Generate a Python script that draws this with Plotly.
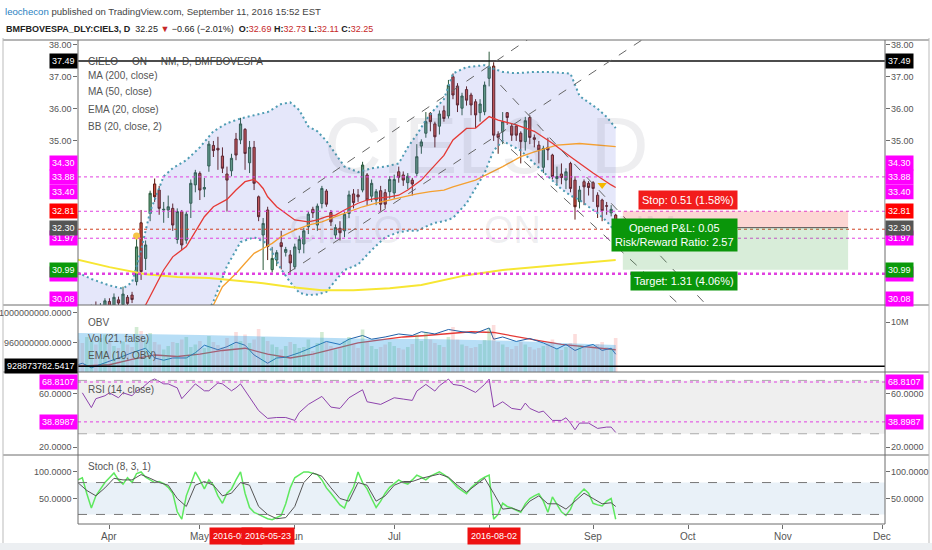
import plotly.graph_objects as go
import pandas as pd

W, H = 932, 550
def px(x): return x / W
def py(y): return 1 - y / H

# ---------------- data ----------------
holidays = ["2016-03-25", "2016-04-21", "2016-05-26", "2016-09-07"]
dates = [d.strftime("%Y-%m-%d") for d in pd.bdate_range("2016-03-22", "2016-09-09")
         if d.strftime("%Y-%m-%d") not in holidays]
OFF = 7  # dates[OFF] == 2016-04-01
def D(i): return dates[i + OFF]

opens = [29.60,29.50,29.40,29.55,29.80,29.65,29.75,30.00,
 29.89,30.05,29.90,30.13,30.20,30.62,32.45,31.34,32.74,33.66,
 33.47,32.85,32.85,32.90,31.93,32.80,31.91,33.06,33.63,33.99,
 33.50,34.22,34.86,34.77,34.53,33.97,34.07,35.06,35.03,35.36,
 34.32,34.80,33.26,32.07,32.85,30.99,31.29,31.83,31.53,31.45,
 31.08,31.62,31.79,32.33,32.87,32.38,33.05,33.44,32.77,32.07,
 32.28,32.20,32.74,33.35,33.32,33.47,33.94,33.28,33.16,33.45,
 33.39,33.42,33.38,34.04,33.94,33.70,33.78,33.99,34.84,35.24,
 35.86,35.53,35.46,35.94,35.78,37.00,36.71,36.02,36.60,36.43,
 36.22,35.88,35.91,36.95,37.33,35.21,35.29,35.88,35.46,35.46,
 35.24,34.98,35.73,35.10,34.87,34.18,34.80,34.56,33.83,33.97,
 33.78,34.30,33.78,33.11,33.73,33.68,33.70,33.31,33.16,32.98,
 32.76,32.69]
highs = [29.80,29.70,29.65,29.90,30.00,29.95,30.10,30.10,
 30.25,30.15,30.46,30.20,30.30,32.12,32.85,31.90,33.45,33.83,
 33.60,33.10,33.30,33.05,32.90,32.85,32.80,33.80,34.10,34.05,
 33.85,35.00,35.00,35.13,34.80,34.20,34.60,35.25,35.72,35.40,
 35.00,35.00,33.30,32.60,32.95,31.70,31.60,32.20,31.70,31.60,
 31.80,32.05,32.30,32.80,32.95,33.05,33.60,33.50,32.85,32.40,
 32.50,32.80,33.45,33.50,33.50,34.35,34.00,33.80,33.50,33.60,
 33.50,33.90,33.95,34.20,34.05,34.00,33.85,34.90,35.05,35.90,
 35.90,35.60,35.95,36.10,36.90,37.10,36.80,36.50,36.70,36.50,
 36.30,36.30,36.85,37.78,37.45,35.30,35.90,35.90,35.55,35.50,
 35.30,35.75,35.80,35.20,35.00,34.85,35.10,34.60,34.20,34.30,
 34.15,34.35,33.90,33.60,33.80,33.75,33.75,33.40,33.20,33.10,
 33.00,32.73]
lows = [29.40,29.30,29.25,29.45,29.55,29.50,29.65,29.70,
 29.80,29.80,29.85,29.85,29.95,30.50,30.67,30.98,32.50,33.10,
 32.70,32.45,32.60,32.20,31.80,31.60,31.80,32.60,33.40,33.16,
 33.25,34.04,34.50,34.10,34.00,32.80,33.90,34.40,34.90,34.10,
 34.00,33.47,32.50,30.98,31.29,30.90,31.10,31.00,31.40,30.90,
 31.00,31.50,31.50,32.10,32.60,32.20,32.90,32.95,32.35,31.95,
 31.90,32.00,32.60,32.90,33.10,33.40,33.00,33.10,33.00,32.80,
 32.90,33.20,33.20,33.70,33.60,33.50,33.30,33.90,34.60,35.10,
 35.30,34.80,35.20,35.60,35.70,36.30,35.90,35.80,36.10,35.80,
 35.40,35.60,35.80,36.70,35.00,34.60,34.90,35.50,35.00,35.00,
 34.30,34.70,34.90,34.80,34.30,34.00,34.40,33.80,33.60,33.65,
 33.50,33.40,32.55,32.90,33.00,33.30,33.10,32.60,32.50,32.70,
 32.65,32.11]
closes = [29.50,29.40,29.55,29.80,29.65,29.75,30.02,29.82,
 30.13,29.95,30.23,29.94,30.06,31.70,30.93,31.76,33.37,33.26,
 32.90,32.87,32.95,32.38,32.80,31.76,32.72,33.68,34.01,33.47,
 33.55,34.90,34.70,34.72,34.15,33.78,34.46,34.56,35.53,34.61,
 34.80,33.68,32.64,32.43,31.71,31.34,31.52,31.71,31.62,31.20,
 31.70,31.93,32.20,32.72,32.76,32.97,33.52,33.03,32.48,32.30,
 32.14,32.72,33.32,33.08,33.26,34.25,33.16,33.68,33.42,33.03,
 33.03,33.80,33.80,33.87,33.78,33.90,33.66,34.51,34.97,35.60,
 35.60,35.13,35.84,35.70,36.74,36.43,36.12,36.40,36.27,36.12,
 35.81,36.15,36.74,37.31,35.18,35.11,35.60,35.73,35.18,35.18,
 34.98,35.63,35.11,35.05,34.72,34.77,34.72,33.89,33.89,33.86,
 34.04,33.52,32.95,33.47,33.57,33.55,33.52,32.95,32.83,32.97,
 32.87,32.25]

# Bollinger (20, 2) read at sample bars
bb_idx = [-7,-4,0,3,5,7,9,12,14,17,20,23,26,29,32,35,38,40,42,44,46,48,50,52,55,58,61,64,66,68,
          70,72,74,76,79,83,85,87,89,91,94,97,100,102,104,106,108,110,112]
bb_up = [30.9,30.7,30.5,30.4,30.6,31.6,32.8,33.9,34.15,34.4,34.8,35.3,35.55,35.7,35.8,35.9,36.15,36.2,
         35.96,35.45,35.3,35.0,34.6,34.2,34.03,34.15,34.2,34.3,34.8,35.2,35.65,36.0,36.3,37.1,37.3,
         37.36,37.25,37.15,37.12,37.12,37.15,37.15,37.12,37.1,36.4,36.2,36.0,35.75,35.4]
bb_lo = [29.0,29.1,29.3,29.4,29.4,29.2,28.8,28.6,28.6,28.8,29.2,30.0,31.1,31.85,32.0,31.8,31.0,30.6,
         30.27,30.2,30.22,30.3,30.65,30.98,31.15,31.6,32.0,32.16,32.2,32.2,32.33,32.45,32.5,32.6,33.06,
         34.0,34.7,35.0,34.85,34.7,34.3,33.9,33.5,33.3,33.16,32.95,32.75,32.5,32.16]
ema_idx = [-7,0,5,8,12,14,17,19,21,23,26,28,30,32,33,34,35,37,40,41,44,46,48,50,52,55,57,59,62,64,
           66,69,71,74,76,79,81,84,86,90,94,98,102,107,111,112]
ema20 = [29.1,29.35,29.6,29.89,30.98,31.39,31.71,32.17,32.64,32.95,33.18,33.47,33.73,33.8,33.68,33.52,
         33.26,32.95,32.64,32.54,32.48,32.54,32.64,32.69,32.85,33.06,33.16,33.21,33.26,33.31,33.47,
         33.78,34.09,34.55,35.03,35.39,35.4,35.76,35.65,35.5,35.3,34.93,34.51,34.0,33.63,33.55]
ma50_idx = [-7,10,20,23,25,28,30,32,34,36,38,41,44,47,50,53,56,59,62,65,68,71,74,76,81,84,87,91,94,
            99,104,112]
ma50 = [29.0,29.3,29.7,29.89,30.46,30.87,31.19,31.5,31.65,31.81,32.02,32.22,32.38,32.48,32.64,32.8,
        32.95,33.06,33.16,33.26,33.35,33.42,33.47,33.57,33.78,33.99,34.2,34.51,34.66,34.87,34.92,34.82]
ma200_idx = [-7,0,8,15,22,34,40,47,54,62,69,79,87,94,101,112]
ma200 = [31.3,31.07,30.85,30.76,30.73,30.57,30.45,30.35,30.35,30.41,30.51,30.82,30.98,31.07,31.17,31.29]

# OBV (millions) and its EMA(10)
obv_idx = [-7,-6,-4,-2,0,2,5,8,10,12,14,17,19,21,24,26,28,30,32,35,37,39,42,45,48,51,53,56,58,61,
           64,67,69,72,75,78,81,84,85,87,90,93,96,99,101,103,105,107,109,111,112]
obv = [931,933,927,931,935,940,947,953,940,937,940,940,947,957,951,955,961,957,944,933,940,941,947,
       955,962,958,965,970,965,968,972,970,975,972,978,975,973,980,965,968,962,966,960,952,958,950,
       955,958,950,953,945]
obv_ema_idx = [-7,0,5,10,15,20,25,30,35,40,45,50,55,60,65,70,75,80,85,90,95,100,105,110,112]
obv_ema = [929,931,938,944,942,945,950,953,945,940,945,952,960,964,968,970,973,975,974,968,963,958,
           955,953,951]
vol = [6.5,5.8,7.0,6.2,5.5,6.8,7.5,6.0,
 5.2,4.8,6.1,5.5,5.0,9.0,8.2,6.5,7.8,6.0,
 5.5,4.5,5.2,6.0,5.8,6.5,7.0,5.0,5.5,6.2,
 4.8,7.2,6.0,5.4,5.0,6.8,5.5,8.0,6.2,7.5,
 5.8,6.5,8.6,7.0,6.2,5.5,5.0,4.5,5.2,6.0,
 5.6,4.8,5.0,6.5,4.2,5.8,8.0,6.0,5.2,4.5,
 5.0,6.2,7.0,5.5,4.8,8.5,6.0,5.2,4.6,5.0,
 5.5,6.0,5.2,4.8,4.5,5.0,5.6,7.5,6.2,8.0,
 6.5,5.8,5.4,5.0,7.0,9.0,6.5,5.5,5.2,4.8,
 5.0,5.6,6.4,8.8,9.4,6.0,5.5,5.0,4.6,5.2,
 6.0,5.5,5.0,4.5,4.8,5.2,5.6,6.5,4.6,4.4,
 5.0,5.8,7.6,5.4,5.0,4.8,5.2,5.6,6.0,5.0,
 4.6,6.8]
volma_idx = [-7,10,20,30,40,50,60,70,80,90,100,112]
volma = [7.8,7.6,7.4,7.2,7.0,6.8,6.6,6.6,6.4,6.2,5.8,5.4]

# RSI(14)
rsi_idx = [-6,-4,-3,-1,0,2,3,5,6,7,9,10,12,13,15,16,18,19,21,22,24,25,27,28,29,31,33,35,37,39,41,42,
           44,47,49,51,53,56,57,60,63,65,67,68,70,72,73,75,76,78,80,81,83,84,85,87,89,91,92,93,95,96,
           98,100,101,102,103,104,106,108,110,111,112]
rsi = [60.7,49.6,56.3,58.5,60.7,57,60.7,58.5,62.2,63.7,69.6,71.1,67.4,67.4,64.4,56.3,63.7,67.4,62.2,
       62.2,68.1,67.4,62.2,64.4,67.4,57,47.4,41.5,42.2,42.2,40,45.9,52,58,50,49,57,63,54,52,57,56,55,
       62,67,62,66,71,67,66,63,61,67,71,50,54,49,48,53,49,46,47,40,40,42,38,33,38,38,34,35,35,31]

# Stochastic (8,3,1)
stk_idx = list(range(-7, 113))
stk = [85,89,59,32,55,68,80,89,98,85,77,89,80,97,100,90,85,80,82,78,71,60,25,11,55,77,100,85,68,85,
       75,55,41,60,68,85,100,60,33,24,20,15,12,10,14,18,40,70,89,95,100,100,98,95,85,70,60,50,38,32,
       55,71,100,80,68,50,33,45,60,71,78,85,80,77,85,94,90,85,92,96,100,95,89,80,71,65,59,70,78,85,
       90,94,11,20,41,35,32,28,24,40,50,55,59,45,24,53,40,25,18,30,50,60,68,60,41,38,36,45,50,11]
std_idx = [-7,-5,-3,-1,1,3,5,7,9,11,13,15,17,19,21,23,25,27,29,31,33,35,37,39,41,43,45,47,49,51,53,
           55,57,59,61,63,65,67,69,71,73,75,77,79,81,83,85,87,89,91,93,95,97,99,101,103,105,107,109,
           111,112]
std = [80,65,55,70,88,85,85,95,88,80,75,50,35,75,82,75,55,60,80,75,35,20,12,14,35,80,98,92,70,50,
       45,80,75,45,55,75,82,82,88,92,96,90,75,62,75,88,60,30,32,26,45,55,40,40,30,45,60,50,40,42,35]

# axis / label values
price_ticks = [35, 36, 37, 38]
hlines_magenta = [33.88, 32.81, 31.97]
hline_black = 37.49
hline_thick = 30.86
last_price = 32.25
entry, stop, target = 32.30, 32.81, 30.99
month_vals = ["2016-04-01","2016-05-02","2016-06-01","2016-07-01","2016-08-01","2016-09-01",
              "2016-10-03","2016-11-01","2016-12-01"]
month_text = ["Apr","May","Jun","Jul","Aug","Sep","Oct","Nov","Dec"]

FONT = "Liberation Sans, Arial"
AX = 9  # axis label font size

# ---------------- figure ----------------
fig = go.Figure()

bbx = [D(i) for i in bb_idx]
fig.add_trace(go.Scatter(x=bbx, y=bb_up, mode="lines", line=dict(width=0, color="rgba(0,0,0,0)"),
                         hoverinfo="skip", showlegend=False))
fig.add_trace(go.Scatter(x=bbx, y=bb_lo, mode="lines", line=dict(width=0, color="rgba(0,0,0,0)"),
                         fill="tonexty", fillcolor="rgba(100,115,225,0.17)", hoverinfo="skip", showlegend=False))
for arr in (bb_up, bb_lo):
    fig.add_trace(go.Scatter(x=bbx, y=arr, mode="lines", line=dict(width=2, color="#4e9cb3", dash="2px,3px"),
                             hoverinfo="skip", showlegend=False))

fig.add_trace(go.Scatter(x=[D(i) for i in ma200_idx], y=ma200, mode="lines",
                         line=dict(color="#f7e633", width=2), hoverinfo="skip", showlegend=False))
fig.add_trace(go.Scatter(x=[D(i) for i in ma50_idx], y=ma50, mode="lines",
                         line=dict(color="#f5a030", width=1.3), hoverinfo="skip", showlegend=False))
fig.add_trace(go.Scatter(x=[D(i) for i in ema_idx], y=ema20, mode="lines",
                         line=dict(color="#e53935", width=1.3), hoverinfo="skip", showlegend=False))

fig.add_trace(go.Candlestick(x=dates, open=opens, high=highs, low=lows, close=closes,
                             increasing=dict(line=dict(color="#2c5a3c", width=1), fillcolor="#5f9f78"),
                             decreasing=dict(line=dict(color="#5b1a13", width=1), fillcolor="#d0503f"),
                             whiskerwidth=0, hoverinfo="skip", showlegend=False))

fig.add_trace(go.Scatter(x=[D(6)], y=[32.04], mode="markers",
                         marker=dict(symbol="circle", size=7, color="#f6c445"), hoverinfo="skip", showlegend=False))
fig.add_trace(go.Scatter(x=[D(109)], y=[33.63], mode="markers",
                         marker=dict(symbol="triangle-down", size=8, color="#f5b800"), hoverinfo="skip", showlegend=False))

# ---- OBV / volume panel
vcolors = ["rgba(76,175,80,0.25)" if c >= o else "rgba(239,83,80,0.2)" for o, c in zip(opens, closes)]
fig.add_trace(go.Bar(x=dates, y=[v * 1e6 for v in vol], marker=dict(color=vcolors, line=dict(width=0)),
                     xaxis="x2", yaxis="y5", hoverinfo="skip", showlegend=False))
fig.add_trace(go.Scatter(x=[D(i) for i in volma_idx], y=[v * 1e6 for v in volma], mode="lines",
                         line=dict(width=0, color="rgba(0,0,0,0)"), fill="tozeroy",
                         fillcolor="rgba(50,160,230,0.35)", xaxis="x2", yaxis="y5", hoverinfo="skip", showlegend=False))
fig.add_trace(go.Scatter(x=[D(i) for i in obv_ema_idx], y=[v * 1e6 for v in obv_ema], mode="lines",
                         line=dict(color="#e53935", width=1.3), xaxis="x2", yaxis="y2", hoverinfo="skip", showlegend=False))
fig.add_trace(go.Scatter(x=[D(i) for i in obv_idx], y=[v * 1e6 for v in obv], mode="lines",
                         line=dict(color="#1f5fa8", width=1), xaxis="x2", yaxis="y2", hoverinfo="skip", showlegend=False))

# ---- RSI
fig.add_trace(go.Scatter(x=[D(i) for i in rsi_idx], y=rsi, mode="lines",
                         line=dict(color="#8e44ad", width=1), xaxis="x3", yaxis="y3", hoverinfo="skip", showlegend=False))

# ---- Stoch
fig.add_trace(go.Scatter(x=[D(i) for i in stk_idx], y=stk, mode="lines",
                         line=dict(color="#5ee85e", width=1.5), xaxis="x4", yaxis="y4", hoverinfo="skip", showlegend=False))
fig.add_trace(go.Scatter(x=[D(i) for i in std_idx], y=std, mode="lines",
                         line=dict(color="#555555", width=1), xaxis="x4", yaxis="y4", hoverinfo="skip", showlegend=False))

# ---------------- layout ----------------
rb = [dict(bounds=["sat", "mon"]), dict(values=holidays)]
xr = ["2016-03-22 01:00", "2016-12-01 14:00"]
xdom = [px(78), px(885)]
axline = "#6d6d6d"
common_x = dict(type="date", rangebreaks=rb, range=xr, domain=xdom, showgrid=False, zeroline=False,
                showline=False, fixedrange=True)

def ydom(top, bot): return [py(bot), py(top)]

layout = dict(
    width=W, height=H, margin=dict(l=0, r=0, t=0, b=0),
    paper_bgcolor="white", plot_bgcolor="white",
    font=dict(family=FONT, size=AX, color="#555555"),
    xaxis=dict(common_x, anchor="y", showticklabels=False, rangeslider=dict(visible=False)),
    xaxis2=dict(common_x, anchor="y2", matches="x", showticklabels=False),
    xaxis3=dict(common_x, anchor="y3", matches="x", showticklabels=False),
    xaxis4=dict(common_x, anchor="y4", matches="x", showticklabels=False, tickmode="array",
                tickvals=month_vals, ticks="outside", ticklen=4, tickcolor=axline),
    yaxis=dict(domain=ydom(40, 305), range=[29.89, 38.144], showgrid=False, zeroline=False,
               tickmode="array", tickvals=price_ticks, showticklabels=False, ticks="outside", ticklen=4,
               tickcolor=axline, mirror="ticks", fixedrange=True),
    yaxis2=dict(domain=ydom(306, 372), anchor="x2", range=[921.3e6, 1009.3e6], showgrid=False, zeroline=False,
                tickmode="array", tickvals=[960e6, 1000e6], showticklabels=False, ticks="outside", ticklen=4,
                tickcolor=axline, fixedrange=True),
    yaxis5=dict(domain=ydom(306, 372), anchor="x2", overlaying="y2", side="right", range=[0, 13.2e6],
                showgrid=False, zeroline=False, tickmode="array", tickvals=[10e6], showticklabels=False,
                ticks="outside", ticklen=4, tickcolor=axline, fixedrange=True),
    yaxis3=dict(domain=ydom(373, 455), anchor="x3", range=[14.07, 75.56], showgrid=False, zeroline=False,
                tickmode="array", tickvals=[20, 60], showticklabels=False, ticks="outside", ticklen=4,
                tickcolor=axline, mirror="ticks", fixedrange=True),
    yaxis4=dict(domain=ydom(456, 524), anchor="x4", range=[2, 130], showgrid=False, zeroline=False,
                tickmode="array", tickvals=[50, 100], showticklabels=False, ticks="outside", ticklen=4,
                tickcolor=axline, mirror="ticks", fixedrange=True),
)
fig.update_layout(**layout)

shapes = []
def pline(x0, y0, x1, y1, color=axline, width=1):
    shapes.append(dict(type="line", xref="paper", yref="paper", x0=px(x0), y0=py(y0), x1=px(x1), y1=py(y1),
                       line=dict(color=color, width=width)))

shapes.append(dict(type="rect", xref="x3 domain", yref="y3", x0=0, x1=1, y0=30, y1=70,
                   fillcolor="#efefef", line=dict(width=0), layer="below"))
shapes.append(dict(type="rect", xref="x4 domain", yref="y4", x0=0, x1=1, y0=20, y1=80,
                   fillcolor="#e9f1f8", line=dict(width=0), layer="below"))
for yv in (70, 30):
    shapes.append(dict(type="line", xref="x3 domain", yref="y3", x0=0, x1=1, y0=yv, y1=yv,
                       line=dict(color="#aaaaaa", width=1, dash="dash")))
for yv in (80, 20):
    shapes.append(dict(type="line", xref="x4 domain", yref="y4", x0=0, x1=1, y0=yv, y1=yv,
                       line=dict(color="#777777", width=1, dash="dash")))
for yv in (68.8107, 38.8987):
    shapes.append(dict(type="line", xref="x3 domain", yref="y3", x0=0, x1=1, y0=yv, y1=yv,
                       line=dict(color="#e040e0", width=1, dash="dot")))
shapes.append(dict(type="line", xref="x2 domain", yref="y2", x0=0, x1=1, y0=928873782.5417, y1=928873782.5417,
                   line=dict(color="#000000", width=1.5)))

shapes.append(dict(type="line", xref="x domain", yref="y", x0=0, x1=1, y0=hline_black, y1=hline_black,
                   line=dict(color="#111111", width=1.5)))
for yv in hlines_magenta:
    shapes.append(dict(type="line", xref="x domain", yref="y", x0=0, x1=1, y0=yv, y1=yv,
                       line=dict(color="#e040e0", width=1, dash="dot")))
shapes.append(dict(type="line", xref="x domain", yref="y", x0=0, x1=1, y0=hline_thick, y1=hline_thick,
                   line=dict(color="#e040e0", width=2.5, dash="dot")))
shapes.append(dict(type="line", xref="x domain", yref="y", x0=0, x1=1, y0=last_price, y1=last_price,
                   line=dict(color="#d04020", width=1, dash="dot")))

channels = [
    ("2016-05-30 12:00", 33.07, "2016-08-15 00:00", 38.30),
    ("2016-05-30 12:00", 30.89, "2016-09-20 12:00", 38.30),
    ("2016-08-03 12:00", 36.74, "2016-10-17 00:00", 29.00),
    ("2016-08-02 22:00", 35.12, "2016-10-10 00:00", 29.00),
]
for x0, y0, x1, y1 in channels:
    shapes.append(dict(type="line", xref="x", yref="y", x0=x0, y0=y0, x1=x1, y1=y1,
                       line=dict(color="#666666", width=1, dash="dash")))

pos_x0, pos_x1 = "2016-09-12 14:00", "2016-11-21 10:00"
shapes.append(dict(type="rect", xref="x", yref="y", x0=pos_x0, x1=pos_x1, y0=entry, y1=stop,
                   fillcolor="rgba(244,67,54,0.22)", line=dict(width=0)))
shapes.append(dict(type="rect", xref="x", yref="y", x0=pos_x0, x1=pos_x1, y0=target, y1=entry,
                   fillcolor="rgba(76,175,80,0.22)", line=dict(width=0)))
shapes.append(dict(type="line", xref="x", yref="y", x0=pos_x0, x1=pos_x1, y0=entry, y1=entry,
                   line=dict(color="#555555", width=1)))

for yv in (40, 305, 372, 455):
    pline(3, yv, 929, yv)
pline(78, 524, 885, 524)
pline(78, 40, 78, 524)
pline(885, 40, 885, 524)
pline(3, 38, 3, 543, "#bbbbbb")
pline(929, 38, 929, 543, "#bbbbbb")
shapes.append(dict(type="rect", xref="paper", yref="paper", x0=0, x1=1, y0=0, y1=py(543),
                   fillcolor="#eceff2", line=dict(width=0)))
fig.update_layout(shapes=shapes)

# ---------------- annotations ----------------
ann = []
def txt(x, y, s, size=AX, color="#555555", xanchor="left", yref="paper", bg=None, fc=None, family=FONT, pad=1):
    ann.append(dict(x=px(x), y=(py(y) if yref == "paper" else y), xref="paper", yref=yref, text=s,
                    showarrow=False, xanchor=xanchor, yanchor="middle",
                    font=dict(size=size, color=(fc or color), family=family),
                    bgcolor=bg, borderpad=pad))

def box(side, y, s, bg, yref, fc="white"):
    if side == "L":
        txt(78, y, s, xanchor="right", yref=yref, bg=bg, fc=fc, pad=2)
    else:
        txt(885, y, s, xanchor="left", yref=yref, bg=bg, fc=fc, pad=2)

# header
ann.append(dict(x=px(3), y=py(11), xref="paper", yref="paper", xanchor="left", yanchor="middle", showarrow=False,
                text="<span style='color:#2a7fc1'>leochecon</span> published on TradingView.com, September 11, 2016 15:52 EST",
                font=dict(size=9.6, color="#444444", family=FONT)))
ann.append(dict(x=px(4), y=py(29), xref="paper", yref="paper", xanchor="left", yanchor="middle", showarrow=False,
                text="<b>BMFBOVESPA_DLY:CIEL3, D</b>  32.25 <span style='color:#c62828'>▼</span> −0.66 (−2.01%)  "
                     "<b>O:</b><span style='color:#c62828'>32.69</span> <b>H:</b><span style='color:#c62828'>32.73</span> "
                     "<b>L:</b><span style='color:#c62828'>32.11</span> <b>C:</b><span style='color:#c62828'>32.25</span>",
                font=dict(size=9, color="#222222", family=FONT)))

# watermarks
wm = "rgba(90,90,110,0.10)"
ann.append(dict(x=px(486), y=py(146), xref="paper", yref="paper", text="CIEL3, D", showarrow=False,
                xanchor="center", yanchor="middle", font=dict(size=80, color=wm, family=FONT)))
for s, xc in (("CIELO", 346), ("ON", 512), ("NM", 646)):
    ann.append(dict(x=px(xc), y=py(230), xref="paper", yref="paper", text=s, showarrow=False,
                    xanchor="center", yanchor="middle", font=dict(size=38, color=wm, family=FONT)))

# legends
sp = "\u00a0" * 5
txt(86, 61, "CIELO" + sp + "ON" + sp + "NM, D, BMFBOVESPA", size=10, color="#444444")
for i, s in enumerate(["MA (200, close)", "MA (50, close)", "EMA (20, close)", "BB (20, close, 2)"]):
    txt(86, 75 + 17 * i, s, size=10, color="#555555")
txt(86, 322, "OBV", size=10)
txt(86, 338, "Vol (21, false)", size=10)
txt(86, 355, "EMA (10, OBV)", size=10)
txt(86, 389, "RSI (14, close)", size=10)
txt(86, 466, "Stoch (8, 3, 1)", size=10)

# price axis labels
for v in price_ticks:
    txt(74, v, f"{v:.2f}", xanchor="right", yref="y")
    txt(889, v, f"{v:.2f}", xanchor="left", yref="y")
price_boxes = [(34.30, "#ff00ff"), (33.88, "#ff00ff"), (33.40, "#ff00ff"), (32.95, "#ffffff"),
               (32.81, "#ff0000"), (31.97, "#ff00ff"), (32.30, "#555555"), (30.86, "#ff00ff"),
               (30.99, "#0a9a0a"), (30.08, "#ff00ff"), (37.49, "#000000")]
for v, c in price_boxes:
    for side in ("L", "R"):
        box(side, v, f"{v:.2f}", c, "y", fc=("#bbbbbb" if c == "#ffffff" else "white"))

txt(74, 1000e6, "1000000000.0000", xanchor="right", yref="y2")
txt(74, 960e6, "960000000.0000", xanchor="right", yref="y2")
box("L", 928873782.5417, "928873782.5417", "#000000", "y2")
txt(889, 10e6, "10M", yref="y5")
for v in (60, 20):
    txt(74, v, f"{v:.4f}", xanchor="right", yref="y3")
    txt(889, v, f"{v:.4f}", yref="y3")
for v in (68.8107, 38.8987):
    box("L", v, f"{v:.4f}", "#ff00ff", "y3")
    box("R", v, f"{v:.4f}", "#ff00ff", "y3")
for v in (100, 50):
    txt(74, v, f"{v:.4f}", xanchor="right", yref="y4")
    txt(889, v, f"{v:.4f}", yref="y4")

for d, s in zip(month_vals, month_text):
    ann.append(dict(x=d, y=py(536), xref="x4", yref="paper", text=s, showarrow=False, xanchor="center",
                    yanchor="middle", font=dict(size=10, color="#555555", family=FONT)))
for d in ("2016-05-12", "2016-05-23", "2016-08-02"):
    ann.append(dict(x=d, y=py(536), xref="x4", yref="paper", text=d, showarrow=False, xanchor="center",
                    yanchor="middle", bgcolor="#ee1111", borderpad=3,
                    font=dict(size=AX, color="white", family=FONT)))

PF = dict(size=11, color="white", family=FONT)
ann.append(dict(x=px(738), y=py(200), xref="paper", yref="paper", text="Stop: 0.51 (1.58%)", showarrow=False,
                bgcolor="#f21c1c", borderpad=3, font=PF))
ann.append(dict(x=px(738), y=py(235), xref="paper", yref="paper",
                text="Opened P&L: 0.05<br>Risk/Reward Ratio: 2.57", showarrow=False, bgcolor="#0a960a", borderpad=3,
                font=PF))
ann.append(dict(x=px(738), y=py(281), xref="paper", yref="paper", text="Target: 1.31 (4.06%)", showarrow=False,
                bgcolor="#0a960a", borderpad=3, font=PF))

fig.update_layout(annotations=ann)
fig.write_html("out.html", config={"displayModeBar": False, "staticPlot": True},
               post_script="document.body.style.margin='0px';document.body.style.overflow='hidden';")
